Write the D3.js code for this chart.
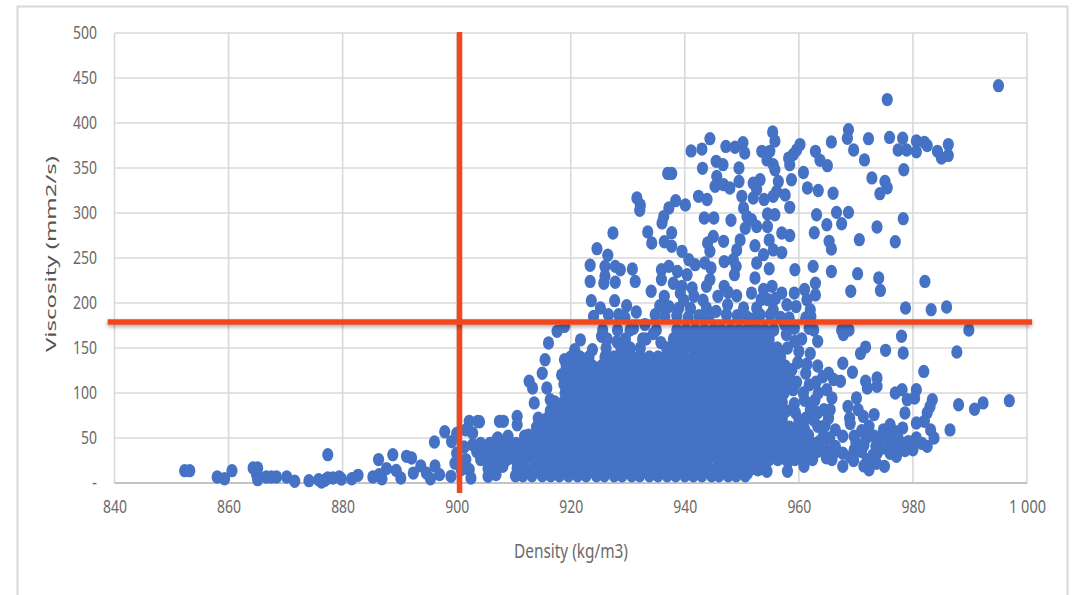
<!DOCTYPE html>
<html><head><meta charset="utf-8">
<script src="https://cdnjs.cloudflare.com/ajax/libs/d3/7.8.5/d3.min.js"></script>
<style>html,body{margin:0;padding:0;background:#fff}svg{display:block}</style>
</head><body><svg id="c" width="1076" height="595"></svg>
<script>
const xTicks=[840,860,880,900,920,940,960,980,1000];
const yTicks=[0,50,100,150,200,250,300,350,400,450,500];
const xTitle="Density (kg/m3)", yTitle="Viscosity (mm2/s)";
const refDensity=900.5, refViscosity=179;
const tailPoints=[[852.3,13.7],[853.2,13.7],[858,6.7],[859.3,4.8],[860.6,13.7],[864.3,16.7],[865.1,16.7],[864.9,9.3],[865.1,3.7],[866.6,6.7],[867.5,6.7],[868.4,6.7],[870.2,6.7],[871.6,1.9],[874.1,2.6],[875.8,3.7],[876.3,1],[876.9,3],[877.4,5.5],[877.4,31.5],[878.3,5.5],[879.4,6.7],[879.8,4.4],[881.6,4.8],[882.7,8.5],[885.3,6.7],[886.9,4.8],[886.3,26],[888.8,31.5],[887.7,16],[886.4,9.3],[889.4,14],[890.2,5.5],[891.2,29.6],[892.1,27.8],[892.4,11],[893.7,19],[894.7,11],[895.4,4.8],[896.2,19],[897,9.3],[896.1,45.6],[897.9,57],[899.1,46],[900,55],[899,7.4],[899.7,22],[902.2,68.5],[903.7,68.5],[901.6,59],[902.8,55.6],[901.3,40],[902.8,42.6],[900,33],[901.6,26],[902.2,15],[902.5,5.5],[900.8,15],[904.5,37],[906.3,35],[907.5,68.5],[907,48],[905.5,7.4],[906.9,9.3],[908.1,18.5]];
const upperPoints=[[995,441.5],[975.5,426],[968.7,392.6],[968.5,383],[965.7,379],[972.2,382.6],[969.6,370],[971.5,359],[975.9,384],[978.2,383],[977.4,370],[978.9,370],[980.6,380],[980.6,368],[982,378.5],[982.5,375],[984.3,368.5],[985,361],[986.2,364],[986.2,376],[978.4,348],[972.8,339],[975.1,335],[975.5,328],[974.2,321.5],[978.3,293.7],[973.7,284.4],[976.9,268],[970.6,270.4],[968.7,300.7],[966.6,300.7],[967.5,288],[966,322],[963.4,325],[961.5,327.8],[960.8,345],[965,352.6],[963.7,358.5],[962.9,368.5],[963.1,298],[964.9,287],[962.7,278],[965.3,268.5],[965.7,260],[962.5,240.7],[965.7,235],[970.3,232.6],[959.3,237],[974,227.8],[974.3,214],[969.1,213],[982.1,224],[962.9,222],[962.9,209],[978.7,194.4],[983.2,192.6],[985.9,195.6],
[941.1,369],[943,371],[944.4,382.6],[947.2,374],[948.8,373],[950.2,378],[950.5,366.7],[955.4,390],[955.8,380],[953.5,368.5],[954.9,368.5],[954.4,359],[955.5,353.7],[955.8,348],[960.2,376],[959.6,370],[959,365],[958.2,361],[958.4,353.7],[958.7,337],[937,344],[937.7,344],[943.1,349.6],[945.5,357.4],[946.7,353.7],[945.6,340.7],[945.3,329.6],[946.8,331.5],[947.9,327.8],[949.5,350],[949.5,335],[953.2,337],[952,333],[952.6,326],[956.4,335],[956.1,324],[955.5,318.5],[957.6,320],[953.9,315],[952,316.7],[950,318.5],[942.4,318.5],[943.9,315],[938.4,313.7],[940.1,309],[937.2,305.6],[931.6,316.7],[932.2,309],[932.1,303],[958.4,306.3],[954.5,299],[955.8,298],[943.4,294.4],[945.1,294.4],[948.1,292],[950.3,305.5],[950.9,296],[951.7,292.6],[952.6,285],[950.6,283],[949.7,270],[949.1,259],[948.5,248],[936.3,296],[936,289],[933.5,279],[934.2,266.7],[936.4,268],[937.7,278],[937.7,263],
[927.4,277.8],[924.6,260.4],[926.5,253],[923.4,242],[926,240.7],[923.4,224],[925.8,222],[926,230],[927.8,240.7],[928.7,237],[930.8,237.8],[931.3,224],[927.8,223],[923.6,202.6],[927.7,202.6],[929.8,197],[925.2,194.4],[924,185],[926.6,187],[928.4,187],[934.1,213],[935.9,237],[937.2,240.7],[935.9,226],[938.7,235],[938,222],[939.5,257.4],[940.7,248],[941.8,242.6],[940.4,231.5],[939.5,218.5],[939.2,211],[941.3,216.7],[941.6,207.4],[936.4,207.4],[937.2,196],[938.9,194],[941,194],[934.8,187],[945,274],[944,266.7],[946.8,268.5],[944.4,257.4],[943.5,244.4],[944.6,239],[946.9,246],[949,240.7],[948.7,231.5],[952.3,263.7],[953.8,253.7],[952.6,244.4],[954.8,238],[952.3,227.8],[951.7,211],[944.4,226],[943.8,218.5],[946.9,218.5],[945.8,207.4],[949.1,208],[947.6,212],[954.5,285],[954.8,270],[955.5,259],[957,256],[957,277.8],[958.4,275],[953.8,215],[955.3,218.5],[954.6,203.7],[957,211],[957.9,198],[959.2,211],[961,215],[961.4,203.7],[962,192.6],[955.5,192.6],[952.6,194.4],[950.3,194.4],[943.8,194.4],[945.5,190.7],[947.3,187],[953.2,187],[955,187],[958.3,183.3],[961.2,183.3],[968.4,172],[967.5,170],[936.5,185],[938.6,186],[940.6,184],[942.5,186],[944.2,184],[949.2,186],[951,184],[952,182],[956.8,184],[935.6,197],[939.8,203],[943.2,203],[947.5,198],[953.4,204],[955.9,205],[959.5,196],[931,172],[933,176],[934.5,166],[935.8,156],[932.6,160],[957.8,165],[959.2,172],[957.5,176],[929.5,184],[931.5,190]];
const rightPoints=[[996.9,91.5],[992.3,89],[990.8,82],[988,87],[987.7,145.6],[989.8,170],[986.5,59],[982.5,40.7],[981.9,124],[978,163],[978.3,144.4],[975.2,147.4],[971.7,151],[970.8,144],[967.7,133],[969.4,123],[973.7,116.7],[973.7,107.4],[971.7,113],[972,105.5],[967.8,165],[968.8,170],[983.4,92.6],[983,85],[982.5,78],[982,68.5],[980.6,66.7],[983.1,59],[983.7,50],[980.6,50],[980,37],[980.6,103.7],[980.3,94.4],[978.1,103.7],[976.9,100],[979,92.6],[978.6,77.8],[976,64.8],[978.2,61],[976.9,57],[974.8,59],[976.3,46],[978.2,44],[977.1,29.6],[975,39],[973.5,40.7],[975,18.5],[972.3,14.8],[972,26],[971,35],[973.2,76],[971.3,74],[970.1,94.4],[968.6,85],[970.4,81.5],[968.9,72],[972.3,63],[969.7,51.9],[967.7,52],[966.4,59],[966.4,40.7],[965.8,26],[967.7,18.5],[969.7,37],[967.7,33],[965.8,94.4],[965.5,81.5],[965.2,122],[967.3,113],[966.1,115],[964.9,103.7],[963.3,157.4],[961.8,172],[962.1,185],[963.3,130],[961.2,122],[961.8,109],[959.3,157.4],[958,150],[956.8,146],[960,146],[962,144],[964.4,81.5],[963.3,78],[963.6,46],[962.3,29.6],[960.9,18.5],[958,13],[958.1,24],[954.4,13],[952.8,14.8],[951,11],[963.3,63],[964.3,52],[962,81.5],[960.8,100],[959,103.7],[970,45],[971.8,50],[974,48],[973,31],[969,29],[961,60],[960,70],
[959.2,88],[959.6,112],[958.8,126],[959.8,134],[961.4,132],[961,92],[962.8,92],[963.4,100],[963,112],[964.2,118],[959.4,78],[961.2,72],[962.6,70],[964.6,64],[965.2,72],[965.4,50],[966.2,34],[964.6,38],[964.8,28],[969,66],[971,58],[973.2,52],[975.6,52],[977.4,50],[979.2,46],[971.4,42],[976,33],[978.6,36],[981.6,44],[973.8,34],[969.6,25],[971.4,19],[973.6,22],[977.5,40]];
const leftEdgePoints=[[918.9,174],[917.6,168.5],[916.1,155.5],[915.5,137],[915,122],[912.7,113],[913.3,105.5],[913.6,89],[915.8,105.5],[921.7,159],[920.7,148],[923.8,148],[925.4,163],[928.1,157],[918.9,137],[918.9,122],[916.4,92.6],[914.3,72],[910.6,74],[910.6,64.8],[908.2,68.5],[907.2,50],[909,52],[911.9,52],[904,68]];
const band8=[8,910.3,911.6,913.2,915,916.5,918,919.6,921.2,922.7,924.5,925.9,927.6,929,930.7,932.1,933.8,935.3,936.9,938.4,940,941.5,943,944.7,946,947.6,949,950.6];
const band16=[16,905.5,907,910.6,912,913.7,915.2,916.6,918.2,919.8,921.4,922.9,924.4,926,927.4,929,930.5,932,933.6,935,936.6,938.1,939.7,941.2,942.8,944.2,945.8,947.3,948.9,950.3,951.8,953.4];
const band26=[26,904.2,905.7,907.3,908.8,910.3,911.8,913.4,914.9,916.4,918,919.5,921,922.6,924.1,925.6,927.2,928.7,930.2,931.8,933.3,934.8,936.4,937.9,939.4,941,942.5,944,945.6,947.1,948.6,950.2,951.7,953.2,954.8,956.3,957.8,959.3,961,962.4];
const band35=[35,903.5,905,906.6,908,909.6,911.1,912.6,914.2,915.7,917.2,918.8,920.3,921.8,923.4,924.9,926.4,928,929.5,931,932.6,934.1,935.6,937.2,938.7,940.2,941.8,943.3,944.8,946.4,947.9,949.4,951,952.5,954,955.6,957.1,958.6,960.2,961.7,963.2];
const band44=[44,904.2,905.8,907.2,908.8,910.4,911.8,913.4,914.9,916.4,918,919.5,921,922.6,924.1,925.6,927.2,928.7,930.2,931.8,933.3,934.8,936.4,937.9,939.4,941,942.5,944,945.6,947.1,948.6,950.2,951.7,953.2,954.8,956.3,957.8,959.4,960.9,962.4,964];
const band53=[53,912.6,914.2,915.7,917.2,918.8,920.3,921.8,923.4,924.9,926.4,928,929.5,931,932.6,934.1,935.6,937.2,938.7,940.2,941.8,943.3,944.8,946.4,947.9,949.4,951,952.5,954,955.6,957.1,958.6,960.2,961.7];
const band62=[62,914,915.4,917,918.5,920,921.6,923.1,924.6,926.2,927.7,929.2,930.8,932.3,933.8,935.4,936.9,938.4,940,941.5,943,944.6,946.1,947.6,949.2,950.7,952.2,953.8,955.3,956.8,958.4,959.9];
const band71=[71,915.7,917.2,918.8,920.3,921.8,923.4,924.9,926.4,928,929.5,931,932.6,934.1,935.6,937.2,938.7,940.2,941.8,943.3,944.8,946.4,947.9,949.4,951,952.5,954,955.6,957.1];
const band80=[80,916.4,918,919.5,921,922.6,924.1,925.6,927.2,928.7,930.2,931.8,933.3,934.8,936.4,937.9,939.4,941,942.5,944,945.6,947.1,948.6,950.2,951.7,953.2,954.8,956.3,957.8];
const band90=[90,917.2,918.8,920.3,921.8,923.4,924.9,926.4,928,929.5,931,932.6,934.1,935.6,937.2,938.7,940.2,941.8,943.3,944.8,946.4,947.9,949.4,951,952.5,954,955.6,957.1];
const band100=[100,919,920.6,922.2,923.6,925.2,926.7,928.2,929.8,931.3,932.8,934.4,935.9,937.4,939,940.5,942,943.6,945.1,946.6,948.2,949.7,951.2,952.8,954.3,955.8,957.4];
const band110=[110,918.8,920.3,921.8,923.4,924.9,926.4,928,929.5,931,932.6,934.1,935.6,937.2,938.7,940.2,941.8,943.3,944.8,946.4,947.9,949.4,951,952.5,954,955.6,957.1,958.4];
const band120=[120,918.4,920,921.6,923,924.6,926.1,927.6,929.2,930.7,932.2,933.8,935.3,936.8,938.4,939.9,941.4,943,944.5,946,947.6,949.1,950.6,952.2,953.7,955.2,956.8,958.3];
const band130=[130,919.2,920.8,922.3,923.8,925.4,926.9,928.4,930,931.5,933,934.6,936.1,937.6,939.2,940.7,942.2,943.8,945.3,946.8,948.4,949.9,951.4,953,954.5,956,957.6];
const band140=[140,920,921.6,923.2,926,927.6,929.2,930.7,932.2,933.8,935.3,936.8,938.4,939.9,941.4,943,944.5,946,947.6,949.1,950.6,952.2,953.7,955.2,956.8];
const band150=[150,926.2,928.8,930.4,932.2,936.8,938.2,939.8,941.4,942.8,944.4,945.9,947.4,949,950.5,952,953.6,955.1,956.2];
const band160=[160,926.4,929.6,933.2,938,939.6,941,942.6,944.1,945.6,947.2,948.7,950.2,951.8,953.3,954.8,960.5];
const band170=[170,925.6,928.2,930.4,935,938.6,940.2,941.8,943.4,945,946.4,948,949.5,951,952.6,954,955.6,962.6];
const denseBands=[band8,band16,band26,band35,band44,band53,band62,band71,band80,band90,band100,band110,band120,band130,band140,band150,band160,band170];

const bandPoints=denseBands.flatMap(b=>b.slice(1).map(d=>[d,b[0]]));
const points=[...tailPoints,...upperPoints,...rightPoints,...leftEdgePoints,...bandPoints];

const svg=d3.select("#c");
const defs=svg.append("defs");
defs.append("filter").attr("id","soft").append("feGaussianBlur").attr("stdDeviation",0.45);
const sh=defs.append("filter").attr("id","shadow").attr("filterUnits","userSpaceOnUse").attr("x",90).attr("y",300).attr("width",960).attr("height",50);
sh.append("feDropShadow").attr("dx",0).attr("dy",2).attr("stdDeviation",2).attr("flood-color","#000").attr("flood-opacity",0.35);

const x=d3.scaleLinear().domain([840,1000]).range([114.5,1027]);
const y=d3.scaleLinear().domain([0,500]).range([483,33]);

svg.append("path").attr("d","M17.5 595V6.5H1067.5V595").attr("fill","none").attr("stroke","#d9d9d9").attr("stroke-width",2);

const grid=svg.append("g").attr("stroke","#d9d9d9").attr("stroke-width",1.6);
grid.selectAll("line.v").data(xTicks).join("line").attr("x1",d=>x(d)).attr("x2",d=>x(d)).attr("y1",y(500)).attr("y2",y(0));
grid.selectAll("line.h").data(yTicks.slice(1)).join("line").attr("x1",x(840)).attr("x2",x(1000)).attr("y1",d=>y(d)).attr("y2",d=>y(d));
svg.append("line").attr("x1",x(840)).attr("x2",x(1000)).attr("y1",y(0)).attr("y2",y(0)).attr("stroke","#c4c4c4").attr("stroke-width",2);

const fontTick='"Noto Sans",sans-serif';
const xAxis=d3.axisBottom(x).tickValues(xTicks).tickSize(0).tickPadding(0).tickFormat(d=>d===1000?"1 000":String(d));
const gx=svg.append("g").attr("transform",`translate(0,${y(0)+17})`).call(xAxis);
const yAxis=d3.axisLeft(y).tickValues(yTicks).tickSize(0).tickPadding(0).tickFormat(d=>d===0?"-":String(d));
const gy=svg.append("g").attr("transform",`translate(97,0)`).call(yAxis);
[gx,gy].forEach(g=>{g.select(".domain").remove();g.selectAll("text").attr("font-family",fontTick).attr("font-size",18).attr("fill","#6a6a6a")
  .attr("lengthAdjust","spacingAndGlyphs").attr("textLength",function(){const s=this.textContent;return s==="-"?5:s==="1 000"?37:s.length*8;});});

svg.append("g").attr("filter","url(#soft)").selectAll("ellipse").data(points).join("ellipse")
 .attr("cx",d=>x(d[0])).attr("cy",d=>y(d[1])).attr("rx",5.6).attr("ry",6.7).attr("fill","#4472c4");

const red=svg.append("g").attr("stroke","#f2471f").attr("stroke-width",5.5);
red.append("line").attr("x1",x(refDensity)).attr("x2",x(refDensity)).attr("y1",y(501)).attr("y2",y(-11));
red.append("line").attr("x1",x(838.8)).attr("x2",x(1000.9)).attr("y1",y(refViscosity)).attr("y2",y(refViscosity)).attr("filter","url(#shadow)");

svg.append("text").attr("x",571).attr("y",558).attr("text-anchor","middle").attr("font-family",fontTick).attr("font-size",20).attr("textLength",114).attr("lengthAdjust","spacingAndGlyphs").attr("fill","#6a6a6a").text(xTitle);
svg.append("text").attr("transform","translate(56,254) rotate(-90)").attr("text-anchor","middle").attr("font-family",fontTick).attr("font-size",14.5).attr("textLength",196).attr("lengthAdjust","spacingAndGlyphs").attr("fill","#555").text(yTitle);
</script></body></html>
